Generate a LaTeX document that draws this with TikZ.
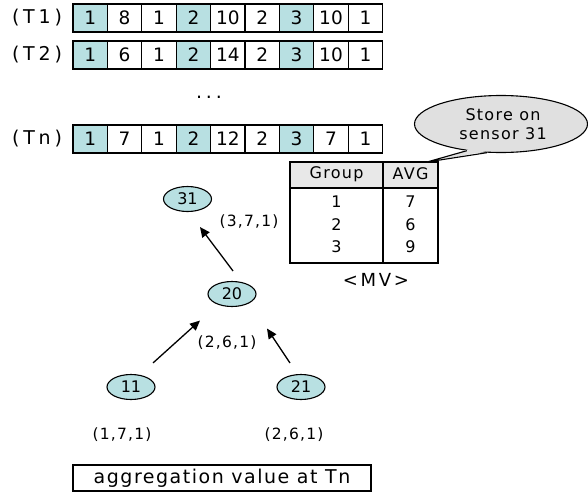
\documentclass[tikz,border=0pt]{standalone}
\usepackage{fontspec}
\setmainfont{DejaVu Sans}[LetterSpace=8]
\usetikzlibrary{arrows.meta,shapes.geometric,calc}
\definecolor{teal1}{RGB}{184,224,226}
\definecolor{callgray}{RGB}{224,224,224}
\definecolor{hdrgray}{RGB}{232,232,232}
\begin{document}
\begin{tikzpicture}[x=1pt,y=-1pt,
  cellbox/.style={draw, line width=1.1pt, minimum width=34.4pt, minimum height=28pt, inner sep=0pt, font=\fontsize{18.5}{18}\selectfont\addfontfeature{LetterSpace=0}},
  shaded/.style={cellbox, fill=teal1},
  rowlab/.style={font=\fontsize{19}{19}\selectfont\addfontfeature{LetterSpace=20}, inner sep=0pt},
  tnode/.style={ellipse, draw, line width=1.1pt, fill=teal1, minimum width=48pt, minimum height=25pt, inner sep=0pt, font=\fontsize{16}{16}\selectfont\addfontfeature{LetterSpace=0}},
  tlab/.style={font=\fontsize{15.5}{15.5}\selectfont, inner sep=0pt},
  tcell/.style={draw, line width=1.1pt, inner sep=0pt},
  ttext/.style={font=\fontsize{16}{16}\selectfont, inner sep=0pt},
  arr/.style={line width=1.3pt, -{Triangle[length=10pt,width=9pt]}}
]
\useasboundingbox (0,0) rectangle (588,493);
% rows
\foreach \r/\yy/\lab/\vals in {a/18/T1/{1,8,1,2,10,2,3,10,1}, b/55/T2/{1,6,1,2,14,2,3,10,1}, c/139/Tn/{1,7,1,2,12,2,3,7,1}}{
  \node[rowlab] (lab\r) at (37,\yy) {(\lab)};
  \foreach \v [count=\i] in \vals {
    \ifnum\i=1 \def\sty{shaded}\else\ifnum\i=4 \def\sty{shaded}\else\ifnum\i=7 \def\sty{shaded}\else\def\sty{cellbox}\fi\fi\fi
    \node[\sty] (c\r\i) at ({73+34.4*(\i-0.5)},\yy) {\v};
  }
}
\node[rowlab] (dots) at (209,97) {...};
% table
\node[tcell, fill=hdrgray, minimum width=93pt, minimum height=26pt] (hdrL) at (336.5,175) {};
\node[tcell, fill=hdrgray, minimum width=55pt, minimum height=26pt] (hdrR) at (410.5,175) {};
\node[tcell, minimum width=93pt, minimum height=75pt] (bodyL) at (336.5,225.5) {};
\node[tcell, minimum width=55pt, minimum height=75pt] (bodyR) at (410.5,225.5) {};
\node[ttext] (tg) at (336.5,174) {Group};
\node[ttext] (ta) at (410.5,174) {AVG};
\node[ttext] (g1) at (336.5,202) {1};
\node[ttext] (g2) at (336.5,225) {2};
\node[ttext] (g3) at (336.5,247) {3};
\node[ttext] (v1) at (410.5,202) {7};
\node[ttext] (v2) at (410.5,225) {6};
\node[ttext] (v3) at (410.5,247) {9};
\node[ttext, font=\fontsize{18}{18}\selectfont\addfontfeature{LetterSpace=15}] (mv) at (376,280) {<MV>};
% callout
\node[ellipse, draw, line width=1.1pt, fill=callgray, minimum width=173pt, minimum height=57pt, inner sep=0pt] (co) at (501,124) {};
\coordinate (tip) at (427,162);
\fill[callgray] ($(co.218)!0.06!(co.center)$) -- (tip) -- ($(co.244)!0.06!(co.center)$) -- cycle;
\draw[line width=1.1pt, line join=round] (co.218) -- (tip) -- (co.244);
\node[ttext, align=center, font=\fontsize{16}{19}\selectfont] (cotext) at (503,124) {Store on\\sensor 31};
% tree
\node[tnode] (n31) at (187.5,199) {31};
\node[tnode] (n20) at (232,294) {20};
\node[tnode] (n11) at (131,387) {11};
\node[tnode] (n21) at (301,387) {21};
\draw[arr] ([xshift=1pt,yshift=10pt]n20.north) -- ([xshift=12.5pt,yshift=-15pt]n31.south);
\draw[arr] ([xshift=22pt,yshift=11pt]n11.north) -- ([xshift=-32pt,yshift=-13.5pt]n20.south);
\draw[arr] ([xshift=-11pt,yshift=11pt]n21.north) -- ([xshift=35pt,yshift=-21.5pt]n20.south);
\node[tlab] (l31) at (249,222) {(3,7,1)};
\node[tlab] (l20) at (227,343) {(2,6,1)};
\node[tlab] (l11) at (122,435) {(1,7,1)};
\node[tlab] (l21) at (294,435) {(2,6,1)};
% caption box
\node[draw, line width=1.1pt, minimum width=298pt, minimum height=26pt, inner sep=0pt, font=\fontsize{19}{19}\selectfont] (cap) at (222,478) {aggregation value at Tn};
\end{tikzpicture}
\end{document}
